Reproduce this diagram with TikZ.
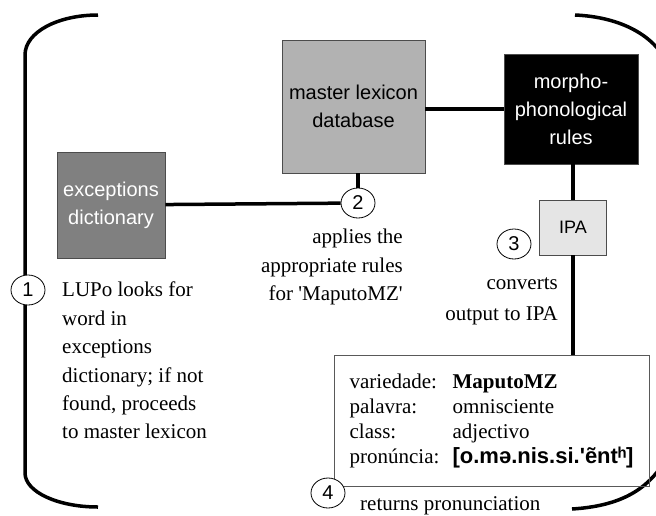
\documentclass[tikz,border=0pt]{standalone}
\usepackage{fontspec}
\setmainfont{Liberation Serif}
\setsansfont{Liberation Sans}
\usetikzlibrary{shapes.geometric}
\tikzstyle{labeledBox}=[shape = rectangle, draw = black!70, line width = 0.8pt, inner sep = 0pt, align = center, font = \sffamily\fontsize{20}{28}\selectfont]
\tikzstyle{stepNumber}=[shape = ellipse, minimum width = 34pt, minimum height = 30pt, inner sep = 0pt, draw, fill = white, line width = 0.8pt, font = \sffamily\fontsize{20}{20}\selectfont]

\begin{document}
\begin{tikzpicture}[x = 1pt, y = -1pt]
\tikzstyle{noteStyle}=[inner sep = 0pt, font = \fontsize{21}{28.4}\selectfont]
\tikzstyle{linkStyle}=[line width = 3.5pt]
\tikzstyle{bracketStyle}=[line width = 3.5pt]
\tikzstyle{tableBox}=[shape = rectangle, draw = black!65, line width = 0.8pt, inner sep = 0pt, minimum width = 315pt, minimum height = 131pt]
\useasboundingbox (0,0) rectangle (656,515);
\draw[bracketStyle] (98,15) .. controls (58,15) and (25,32) .. (25,55) -- (25,473) .. controls (25,492) and (58,507) .. (98,507);
\draw[bracketStyle] (575,15) .. controls (620,17) and (655,35) .. (668,65) -- (668,455) .. controls (650,490) and (620,506) .. (572,509);
\node[labeledBox, fill = black!50, text = white, minimum width = 108pt, minimum height = 106pt] (exc) at (111,205) {exceptions\\dictionary};
\node[labeledBox, fill = black!30, minimum width = 143pt, minimum height = 133pt] (lexicon) at (353.5,106.5) {master lexicon\\database};
\node[labeledBox, fill = black, text = white, minimum width = 134pt, minimum height = 110pt] (rules) at (571,109) {morpho-\\phonological\\rules};
\node[labeledBox, fill = black!10, minimum width = 67pt, minimum height = 55pt, font = \sffamily\fontsize{18}{18}\selectfont] (ipa) at (573,227.5) {IPA};
\node[tableBox] (tbl) at (491.5,420.5) {\fontsize{21}{25}\selectfont\begin{tabular}{@{}p{103pt}@{}l@{}}
variedade: & \textbf{MaputoMZ}\\
palavra: & omnisciente\\
class: & adjectivo\\
pronúncia: & {\sffamily\bfseries\fontsize{22}{25}\selectfont [o.mə.nis.si.\textquotesingle ẽntʰ]}
\end{tabular}};
\node[stepNumber] (s1) at (28,290) {1};
\node[stepNumber] (s2) at (358,203) {2};
\node[stepNumber] (s3) at (514,244) {3};
\node[stepNumber] (s4) at (328,493) {4};
\draw[linkStyle] (exc) -- (s2);
\draw[linkStyle] (s2) -- (s2 |- lexicon.south);
\draw[linkStyle] (rules.west) -- (rules.west -| lexicon.east);
\draw[linkStyle] (ipa) -- (ipa |- rules.south);
\draw[linkStyle] (ipa) -- (ipa |- tbl.north);
\node[noteStyle, align = left, anchor = north west] (lookNote) at (62,282) {LUPo looks for\\word in\\exceptions\\dictionary; if not\\found, proceeds\\to master lexicon};
\node[noteStyle, align = right, anchor = north east] (applyNote) at (403,229) {applies the\\appropriate rules\\for \textquotesingle MaputoMZ\textquotesingle};
\node[noteStyle, align = right, anchor = north east, font = \fontsize{21}{31}\selectfont] (convertNote) at (558,277) {converts\\output to IPA};
\node[noteStyle, anchor = base west] (returnNote) at (360,510) {returns pronunciation};
\end{tikzpicture}
\end{document}
